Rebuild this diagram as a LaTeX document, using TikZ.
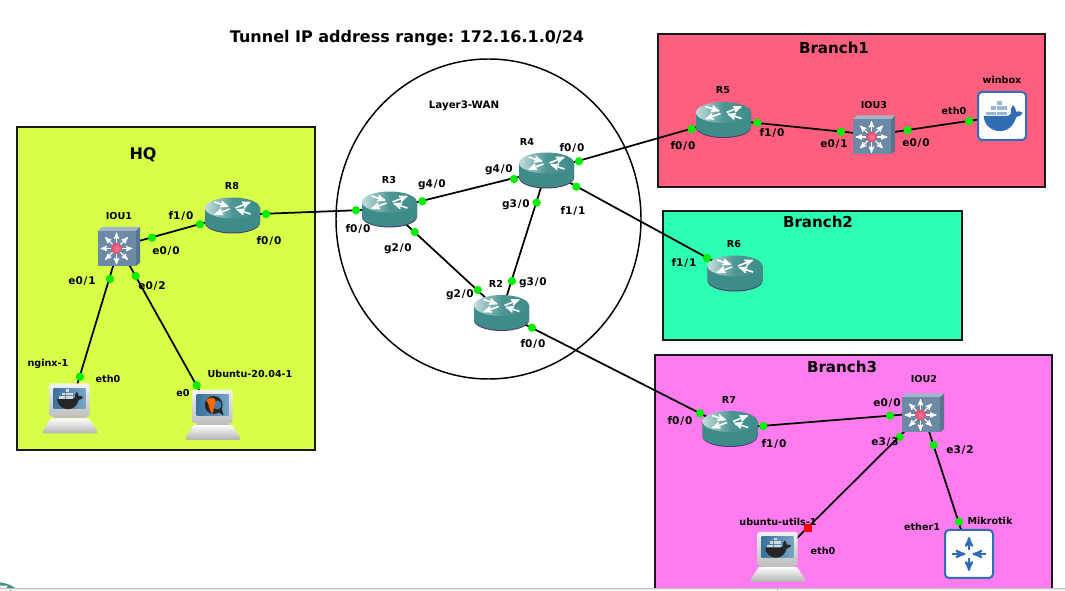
\documentclass[tikz,border=0pt]{standalone}
\usepackage{fontspec}
\setmainfont{DejaVu Sans}
\usepackage{xcolor}
\usepackage{tikz}
\usetikzlibrary{arrows}
\frenchspacing
\newcommand{\sk}{\kern.6pt/\kern.6pt}
\definecolor{hqcol}{HTML}{D8FF47}
\definecolor{brcola}{HTML}{FF5F7E}
\definecolor{brcolb}{HTML}{2DFFB3}
\definecolor{brcolc}{HTML}{FF7CF0}
\definecolor{routercol}{HTML}{3E8C8A}
\definecolor{dockcol}{HTML}{2F6DB5}
\definecolor{screencol}{HTML}{3F7FAE}
\definecolor{portcol}{HTML}{00EE00}
\definecolor{swface}{HTML}{6C8AA5}
\definecolor{swtop}{HTML}{A3B5C6}
\definecolor{swside}{HTML}{587490}
\definecolor{swball}{HTML}{E5476B}
\tikzset{
	room/.style={draw=black!90,line width=1.5pt},
	room title/.style={font=\fontsize{11.3}{13}\selectfont\bfseries},
	link/.style={draw=black,line width=1.3pt},
	port node/.style={circle,fill=portcol,inner sep=0pt,minimum size=6.2pt},
	port down/.style={rectangle,fill=red,inner sep=0pt,minimum size=6pt},
	name label/.style={font=\fontsize{7.2}{8.6}\selectfont\bfseries,inner sep=0pt},
	port label/.style={font=\fontsize{7.9}{9.4}\selectfont\bfseries,inner sep=0pt},
	main node/.style={inner sep=0pt,minimum width=41pt,minimum height=27pt},
	pics/routerpic/.style={code={
		\fill [black!30!violet!60!routercol] (-27.5,-7) -- (-27.5,8) arc [start angle=180,end angle=0,x radius=27.5,y radius=10.5] -- (27.5,-7) -- cycle;
		\fill [routercol] (-27.5,-7) -- (-27.5,7) arc [start angle=180,end angle=0,x radius=27.5,y radius=10.5] -- (27.5,-7) -- cycle;
		\shade [left color=routercol!30!white,right color=routercol,middle color=routercol!92!white] (0,-7) ellipse [x radius=27.5,y radius=10.5];
		\draw [->,>=stealth',white,line width=1.2pt] (-18,-13) -- (-4,-8.5);
		\draw [->,>=stealth',white,line width=1.2pt] (3,-7) -- (18,-13);
		\draw [->,>=stealth',white,line width=1.2pt] (-3,-6) -- (-18,-0.5);
		\draw [->,>=stealth',white,line width=1.2pt] (18,-1) -- (4,-5.5);
	}},
	pics/switchpic/.style={code={
		\fill [swtop] (-21,-15.5) -- (-17,-19.5) -- (21,-19.5) -- (17,-15.5) -- cycle;
		\fill [swside] (17,-15.5) -- (21,-19.5) -- (21,16) -- (17,19.5) -- cycle;
		\fill [swface] (-21,-15.5) rectangle (17,19.5);
		\foreach \ang in {0,45,...,315}
			\draw [->,>=stealth',white,line width=0.8pt] (-2.5,2) ++(\ang:5) -- ++(\ang:11);
		\shade [inner color=swball!70!white,outer color=swball] (-2.5,2) circle [radius=5.5];
	}},
	pics/hostpic/.style={code={
		\shade [top color=white,bottom color=black!30] (-19,9.8) -- (19,9.8) -- (27,22) -- (27,24.8) -- (-27,24.8) -- (-27,22) -- cycle;
		\fill [black!25] (-16,8) rectangle (16,10);
		\shade [top color=black!5,bottom color=black!25,rounded corners=1.5pt] (-20.5,-25) rectangle (19.5,8.2);
		\shade [left color=screencol!90!black,right color=screencol!70!white] (-16.5,-20) rectangle (15.5,0.3);
	}},
	pics/whalepic/.style 2 args={code={
		\fill [#1] (-15,0) .. controls (-15,8) and (-8,14) .. (0,14) .. controls (8,14) and (13,8) .. (15,1) .. controls (18,1) and (20,-1) .. (21,-3) .. controls (19,-4) and (17,-5) .. (15,-4) .. controls (15,-7) and (13,-9) .. (12,-10) .. controls (10,-8) and (9.5,-5) .. (10,-2) .. controls (9,-1) and (8,0) .. (6,0) -- cycle;
		\foreach \bx/\by in {-13/-4,-8/-4,-3/-4,2/-4,-8/-9,-3/-9,2/-9,-3/-14}
			\fill [#2] (\bx,\by) rectangle ++(4.4,3.4);
	}},
	pics/qemupic/.style={code={
		\fill [black!85] (0,0) circle [radius=9];
		\fill [black!85] (3,6) -- (10,10.5) -- (8,3) -- cycle;
		\fill [screencol] (3.5,0) circle [radius=4.5];
		\fill [orange!80!red] (-7.5,-5) .. controls (-3,-9) and (3,-7) .. (2,-3) .. controls (1,0) and (0,3) .. (-1,9) .. controls (-5,6) and (-4,-1) .. (-7.5,-5) -- cycle;
	}},
	pics/boxpic/.style={code={
		\draw [dockcol,fill=white,line width=1.5pt,rounded corners=3pt] (-24,-24) rectangle (24,24);
	}},
	pics/mikrotikpic/.style={code={
		\draw [dockcol,fill=white,line width=1.5pt,rounded corners=3pt] (-24,-24) rectangle (24,24);
		\draw [->,>=stealth',dockcol,line width=1.5pt] (-17,0) -- (-3.5,0);
		\draw [->,>=stealth',dockcol,line width=1.5pt] (17,0) -- (3.5,0);
		\draw [->,>=stealth',dockcol,line width=1.5pt] (0,-4) -- (0,-17);
		\draw [->,>=stealth',dockcol,line width=1.5pt] (0,4) -- (0,17);
	}}
}
\begin{document}
\begin{tikzpicture}[x=0.75pt,y=-0.75pt]
	\useasboundingbox (0,0) rectangle (1065,591);
	\clip (0,0) rectangle (1065,591);
	\draw [room,fill=hqcol] (17,127) rectangle (315,450.5);
	\draw [room,fill=brcola] (657.5,34) rectangle (1045,187.5);
	\draw [room,fill=brcolb] (663,211) rectangle (962,340);
	\draw [room,fill=brcolc] (654.5,355) rectangle (1052,600);
	\draw [black,line width=1.1pt] (488.5,219) ellipse [x radius=152.5,y radius=160];
	% devices
	\node [main node] (R8) at (232.5,215) {};
	\node [main node] (R3) at (389.5,209) {};
	\node [main node] (R4) at (546.5,170) {};
	\node [main node] (R2) at (501.5,312.5) {};
	\node [main node] (R5) at (723.5,119.5) {};
	\node [main node] (R6) at (735,273) {};
	\node [main node] (R7) at (730,428.5) {};
	\node [main node] (R0) at (-10.5,599) {};
	\node [main node] (IOU1) at (119,246.5) {};
	\node [main node] (IOU2) at (923,413) {};
	\node [main node] (IOU3) at (874,135) {};
	\node [main node] (nginx) at (70,408.5) {};
	\node [main node] (ubuntu) at (213,415) {};
	\node [main node] (utils) at (778,557) {};
	\node [main node] (winbox) at (1002,116) {};
	\node [main node] (mikrotik) at (969,554) {};
	% links
	\draw [link] (IOU1.center) -- (R8.center);
	\draw [link] (R8.center) -- (R3.center);
	\draw [link] (IOU1.center) -- (nginx.center);
	\draw [link] (IOU1.center) -- (ubuntu.center);
	\draw [link] (R3.center) -- (R4.center);
	\draw [link] (R3.center) -- (R2.center);
	\draw [link] (R4.center) -- (R2.center);
	\draw [link] (R4.center) -- (R5.center);
	\draw [link] (R4.center) -- (R6.center);
	\draw [link] (R2.center) -- (R7.center);
	\draw [link] (R5.center) -- (IOU3.center);
	\draw [link] (IOU3.center) -- (winbox.center);
	\draw [link] (R7.center) -- (IOU2.center);
	\draw [link] (IOU2.center) -- (utils.center);
	\draw [link] (IOU2.center) -- (mikrotik.center);
	% icons
	\pic at (R8) {routerpic};
	\pic at (R3) {routerpic};
	\pic at (R4) {routerpic};
	\pic at (R2) {routerpic};
	\pic at (R5) {routerpic};
	\pic at (R6) {routerpic};
	\pic at (R7) {routerpic};
	\pic at (R0) {routerpic};
	\pic at (IOU1) {switchpic};
	\pic at (IOU2) {switchpic};
	\pic at (IOU3) {switchpic};
	\pic at (nginx) {hostpic};
	\pic [scale=0.72] at ([xshift=-1.5pt,yshift=7pt]nginx.center) {whalepic={black!85}{black!15}};
	\pic at (ubuntu) {hostpic};
	\pic at ([xshift=0.5pt,yshift=7.5pt]ubuntu.center) {qemupic};
	\pic at (utils) {hostpic};
	\pic [scale=0.72] at ([xshift=-1.5pt,yshift=7pt]utils.center) {whalepic={black!85}{black!15}};
	\pic at (winbox) {boxpic};
	\pic [scale=1.08] at ([xshift=-1.5pt]winbox.center) {whalepic={dockcol}{dockcol!50!white}};
	\pic at (mikrotik) {mikrotikpic};
	% ports
	\node [port node] (p1) at (200,224.3) {};
	\node [port node] (p2) at (266,214) {};
	\node [port node] (p3) at (152,237.7) {};
	\node [port node] (p4) at (110,279) {};
	\node [port node] (p5) at (135.7,276) {};
	\node [port node] (p6) at (80,376.7) {};
	\node [port node] (p7) at (196.7,385.3) {};
	\node [port node] (p8) at (356,210.3) {};
	\node [port node] (p9) at (422.3,201.3) {};
	\node [port node] (p10) at (414.7,232) {};
	\node [port node] (p11) at (514,179) {};
	\node [port node] (p12) at (536.7,202.7) {};
	\node [port node] (p13) at (579,161.3) {};
	\node [port node] (p14) at (576.3,186.7) {};
	\node [port node] (p15) at (477.7,290) {};
	\node [port node] (p16) at (512,281) {};
	\node [port node] (p17) at (532,327.7) {};
	\node [port node] (p18) at (691.7,129) {};
	\node [port node] (p19) at (757.3,122.7) {};
	\node [port node] (p20) at (841,131.7) {};
	\node [port node] (p21) at (907.7,130.3) {};
	\node [port node] (p22) at (969,121) {};
	\node [port node] (p23) at (707,258) {};
	\node [port node] (p24) at (700,413.3) {};
	\node [port node] (p25) at (763.3,426) {};
	\node [port node] (p26) at (890,415.7) {};
	\node [port node] (p27) at (899.7,437) {};
	\node [port node] (p28) at (933.7,445) {};
	\node [port node] (p29) at (959,521.7) {};
	\node [port down] (p30) at (808,528) {};
	% titles
	\node [font=\fontsize{12}{14}\selectfont\bfseries] (title) at (407,38.5) {Tunnel IP address range: 172.16.1.0/24};
	\node [room title,font=\fontsize{12}{14}\selectfont\bfseries] (thq) at (143,155) {HQ};
	\node [room title] (tbra) at (834,47.7) {Branch1};
	\node [room title] (tbrb) at (818,222) {Branch2};
	\node [room title] (tbrc) at (842,367) {Branch3};
	\node [name label,font=\fontsize{7.7}{9}\selectfont\bfseries] (twan) at (464,106) {Layer3-WAN};
	% labels
	\node [name label] (lR8) at (232,186) {R8};
	\node [name label] (lIOU1) at (119,216) {IOU1};
	\node [port label] (l1) at (181,216) {f1\sk0};
	\node [port label] (l3) at (166,251) {e0\sk0};
	\node [port label] (l2) at (269,241) {f0\sk0};
	\node [port label] (l4) at (82,281) {e0\sk1};
	\node [port label] (l5) at (152,286) {e0\sk2};
	\node [name label] (lnginx) at (48,363.5) {nginx-1};
	\node [name label] (l6) at (108,379) {eth0};
	\node [name label] (l7) at (183,393) {e0};
	\node [name label] (lubuntu) at (250,374) {Ubuntu-20.04-1};
	\node [name label] (lR3) at (389,180) {R3};
	\node [port label] (l9) at (432,185) {g4\sk0};
	\node [port label] (l8) at (358,229) {f0\sk0};
	\node [port label] (l10) at (398,249) {g2\sk0};
	\node [name label] (lR4) at (527,142) {R4};
	\node [port label] (l11) at (499,170) {g4\sk0};
	\node [port label] (l13) at (572,148) {f0\sk0};
	\node [port label] (l12) at (516,205) {g3\sk0};
	\node [port label] (l14) at (573,211) {f1\sk1};
	\node [name label] (lR2) at (496,284) {R2};
	\node [port label] (l15) at (460,295) {g2\sk0};
	\node [port label] (l16) at (533,283) {g3\sk0};
	\node [port label] (l17) at (533,344) {f0\sk0};
	\node [name label] (lR5) at (723,90) {R5};
	\node [port label] (l18) at (683,146) {f0\sk0};
	\node [port label] (l19) at (772,133) {f1\sk0};
	\node [port label] (l20) at (834,144) {e0\sk1};
	\node [name label] (lIOU3) at (874,105) {IOU3};
	\node [port label] (l21) at (916,143) {e0\sk0};
	\node [name label] (l22) at (954,111) {eth0};
	\node [name label] (lwinbox) at (1002,80) {winbox};
	\node [name label] (lR6) at (734,244) {R6};
	\node [port label] (l23) at (684,263) {f1\sk1};
	\node [name label] (lR7) at (729,400) {R7};
	\node [port label] (l24) at (680,421) {f0\sk0};
	\node [port label] (l25) at (774,444) {f1\sk0};
	\node [port label] (l26) at (887,403) {e0\sk0};
	\node [name label] (lIOU2) at (924,379) {IOU2};
	\node [port label] (l27) at (885,442) {e3\sk3};
	\node [port label] (l28) at (960,450) {e3\sk2};
	\node [name label] (lutils) at (778,522) {ubuntu-utils-1};
	\node [name label] (l30) at (823,551) {eth0};
	\node [name label] (l29) at (922,527) {ether1};
	\node [name label] (lmikrotik) at (990,521) {Mikrotik};
	% window edge
	\fill [black!6] (0,588) rectangle (1065,591);
	\draw [black!25] (0,588) -- (1065,588);
	\draw [black!25] (10,588) -- (10,591);
	\draw [black!25] (777,588) -- (777,591);
\end{tikzpicture}
\end{document}
